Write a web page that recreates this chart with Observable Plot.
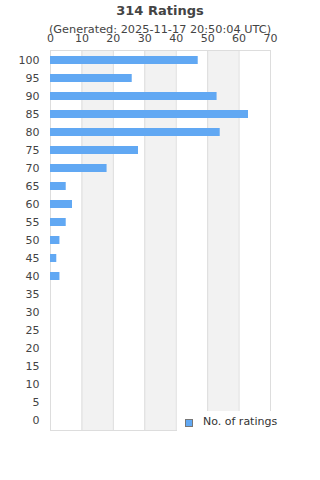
<!DOCTYPE html>
<html><head><meta charset="utf-8">
<script src="https://cdn.jsdelivr.net/npm/d3@7"></script>
<script src="https://cdn.jsdelivr.net/npm/@observablehq/plot@0.6"></script>
<style>
body{margin:0;background:#fff;font-family:"DejaVu Sans",sans-serif;}
#wrap{position:relative;width:320px;height:480px;}
.t{position:absolute;left:0;width:320px;text-align:center;color:#444;white-space:nowrap;}
#title{top:3px;font-size:13px;line-height:15px;font-weight:bold;}
#subtitle{top:23px;font-size:11.3px;line-height:13px;}
#legend{position:absolute;left:177px;top:411px;width:110px;height:22px;background:#fff;}
</style></head><body>
<div id="wrap"></div>
<script>
const ratings = ["100","95","90","85","80","75","70","65","60","55","50","45","40","35","30","25","20","15","10","5","0"];
const counts  = [47,26,53,63,54,28,18,5,7,5,3,2,3,0,0,0,0,0,0,0,0];
const xTicks = [0,10,20,30,40,50,60,70];
const shadedBands = [10,30,50];
const titleText = "314 Ratings";
const subtitleText = "(Generated: 2025-11-17 20:50:04 UTC)";
const seriesName = "No. of ratings";
const barColor = "#61a8f3";

const data = ratings.map((r, i) => ({rating: r, count: counts[i]}));

const chart = Plot.plot({
  width: 320, height: 480,
  marginTop: 50, marginBottom: 50, marginLeft: 50, marginRight: 50,
  style: {fontFamily: "DejaVu Sans", fontSize: "11px", color: "#444", background: "white"},
  x: {domain: [0, 70], ticks: xTicks, axis: "top", tickSize: 0, tickPadding: 9, label: null},
  y: {domain: ratings, paddingInner: 0.56, paddingOuter: 0.28, tickSize: 0, tickPadding: 11, label: null},
  marks: [
    Plot.rectX(shadedBands, {x1: d => d, x2: d => d + 10, fill: "#f2f2f2"}),
    Plot.ruleX(xTicks, {stroke: "#ddd"}),
    Plot.frame({stroke: "#ddd"}),
    Plot.barX(data, {x: "count", y: "rating", fill: barColor})
  ]
});

const wrap = document.getElementById("wrap");
wrap.appendChild(chart);

const t = document.createElement("div");
t.className = "t"; t.id = "title"; t.textContent = titleText;
wrap.appendChild(t);
const s = document.createElement("div");
s.className = "t"; s.id = "subtitle"; s.textContent = subtitleText;
wrap.appendChild(s);

const lg = document.createElement("div");
lg.id = "legend";
lg.innerHTML = `<div style="position:absolute;left:8px;top:8px;width:6px;height:6px;background:${barColor};border:1px solid #777;"></div>
<div style="position:absolute;left:26px;top:4px;font-size:11px;line-height:13px;color:#333;white-space:nowrap;">${seriesName}</div>`;
wrap.appendChild(lg);
</script>
</body></html>
